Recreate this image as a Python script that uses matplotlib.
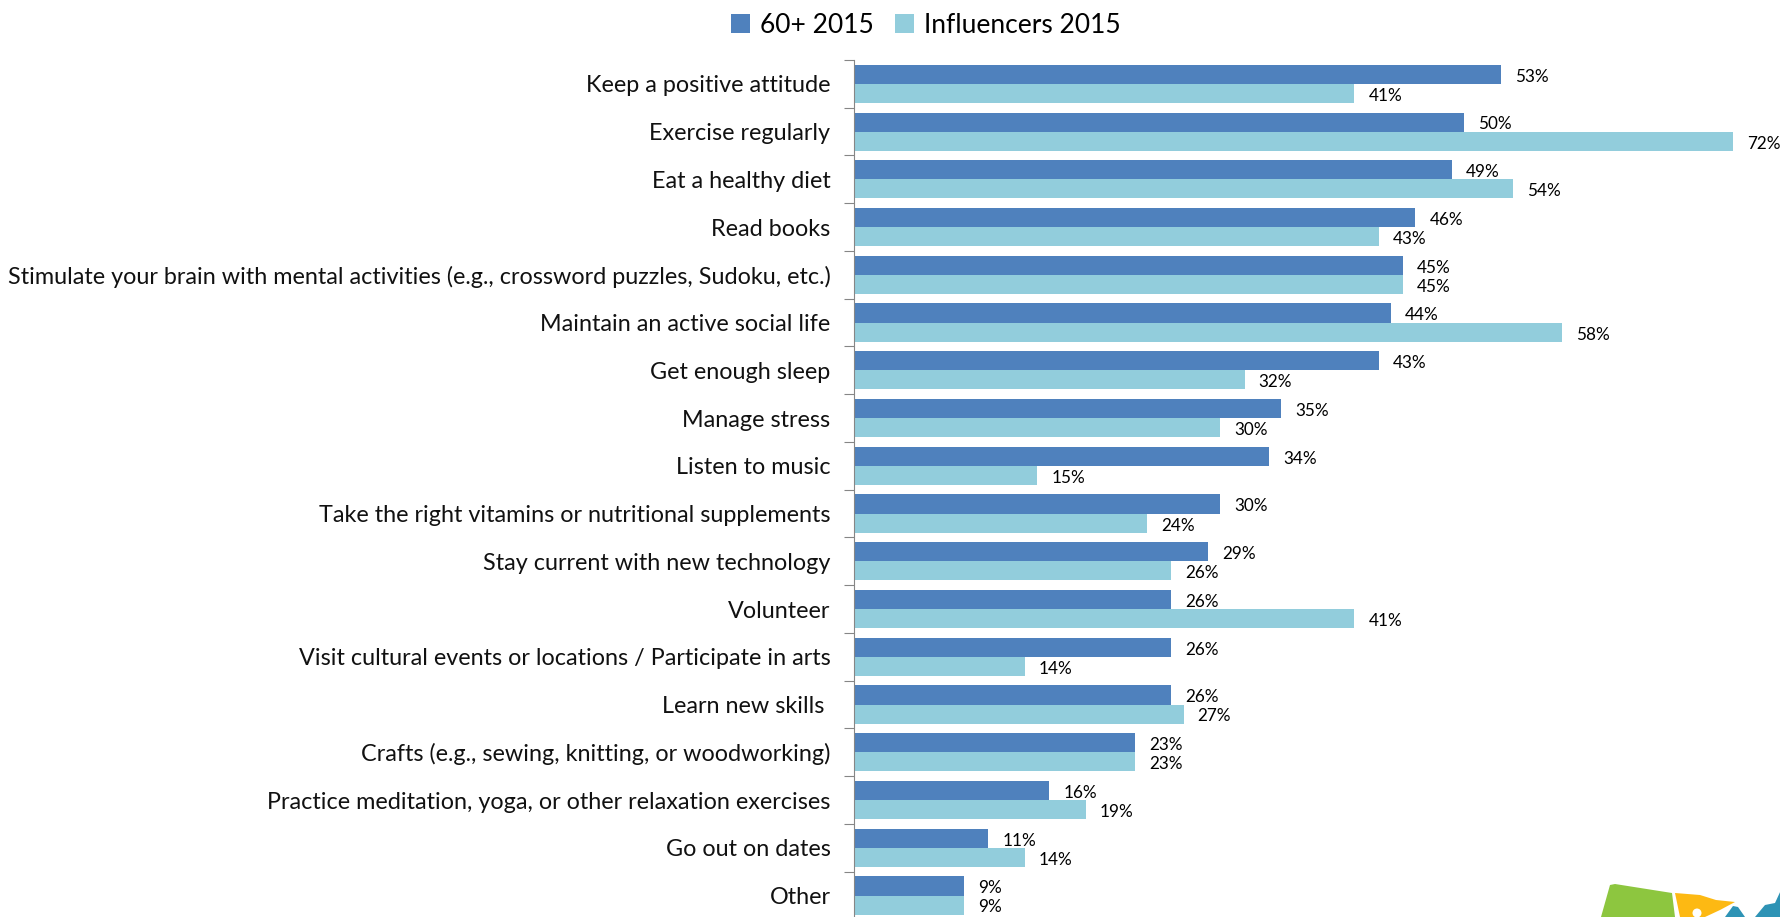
import matplotlib
matplotlib.use("Agg")
import matplotlib.pyplot as plt
from matplotlib.patches import Polygon, Ellipse
import numpy as np

categories = ["Keep a positive attitude", "Exercise regularly", "Eat a healthy diet", "Read books",
	"Stimulate your brain with mental activities (e.g., crossword puzzles, Sudoku, etc.)",
	"Maintain an active social life", "Get enough sleep", "Manage stress", "Listen to music",
	"Take the right vitamins or nutritional supplements", "Stay current with new technology",
	"Volunteer", "Visit cultural events or locations / Participate in arts", "Learn new skills ",
	"Crafts (e.g., sewing, knitting, or woodworking)",
	"Practice meditation, yoga, or other relaxation exercises", "Go out on dates", "Other"]
seniors = [53, 50, 49, 46, 45, 44, 43, 35, 34, 30, 29, 26, 26, 26, 23, 16, 11, 9]
influencers = [41, 72, 54, 43, 45, 58, 32, 30, 15, 24, 26, 41, 14, 27, 23, 19, 14, 9]

W, H = 1781, 917
plt.rcParams['font.family'] = ['Lato', 'DejaVu Sans']

fig = plt.figure(figsize=(W / 100, H / 100), dpi=100)
# axes box in pixels: spine at x=854, top tick at y=60
ax = fig.add_axes([854 / W, 0, (W - 854) / W, 1 - 60 / H])

y = np.arange(len(categories))
h = 0.4
ax.barh(y - h / 2, seniors, h, color="#4F81BD", label="60+ 2015")
ax.barh(y + h / 2, influencers, h, color="#92CDDC", label="Influencers 2015")

for i in range(len(categories)):
	ax.text(seniors[i] + 1.15, y[i] - h / 2 + 0.05, "%d%%" % seniors[i], va="center", ha="left", fontsize=12.3, clip_on=False)
	ax.text(influencers[i] + 1.15, y[i] + h / 2 + 0.05, "%d%%" % influencers[i], va="center", ha="left", fontsize=12.3, clip_on=False)

ax.set_xlim(0, 75.95)
ax.set_ylim(17.45, -0.48)
ax.set_yticks(np.arange(-0.5, 17.5, 1))
ax.set_yticklabels([])
ax.set_yticks(y, minor=True)
ax.set_yticklabels(categories, minor=True, fontsize=16.8, color="#111111")
ax.tick_params(axis="y", which="major", length=7, color="#868686", direction="out")
ax.tick_params(axis="y", which="minor", length=0, pad=17)
ax.xaxis.set_visible(False)
for s in ["top", "right", "bottom"]:
	ax.spines[s].set_visible(False)
ax.spines["left"].set_color("#868686")

handles, labels = ax.get_legend_handles_labels()
fig.legend(handles, labels, loc="upper center", bbox_to_anchor=(0.52, 1.012), ncol=2, frameon=False,
	fontsize=19, handlelength=0.7, handleheight=0.7, handletextpad=0.4, columnspacing=0.8)

# logo corner, bottom right (pixels from top left)
def px(pts):
	return [(a / W, 1 - b / H) for a, b in pts]

logo_green = [(1610, 885), (1615, 884), (1672, 893), (1675, 917), (1601, 917)]
logo_orange = [(1675, 893), (1700, 895), (1716, 900), (1735, 902), (1720, 910), (1705, 917), (1680, 917)]
logo_blue1 = [(1725, 917), (1733, 906), (1738, 907), (1745, 917)]
logo_blue2 = [(1755, 917), (1765, 905), (1775, 903), (1781, 890), (1781, 917)]
for pts, col in [(logo_green, "#8DC63F"), (logo_orange, "#FDB913"), (logo_blue1, "#2E93B5"), (logo_blue2, "#2E93B5")]:
	fig.add_artist(Polygon(px(pts), closed=True, facecolor=col, edgecolor="none", transform=fig.transFigure))
fig.add_artist(Ellipse((1697 / W, 1 - 913 / H), 9 / W, 9 / H, facecolor="white", edgecolor="none", transform=fig.transFigure))

fig.savefig("out.png", dpi=100)
